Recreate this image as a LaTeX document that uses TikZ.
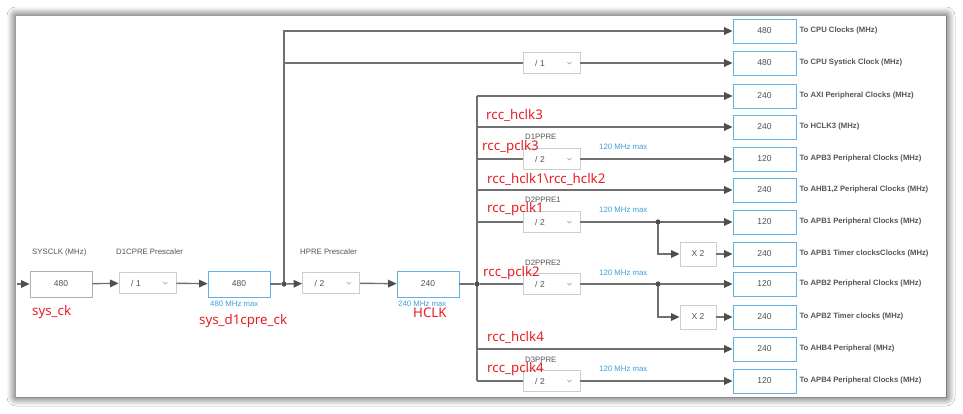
\documentclass[tikz,border=0pt]{standalone}
\usepackage{fontspec}
\setmainfont{Liberation Sans}
\newfontfamily\redfont{Noto Sans}
\usetikzlibrary{arrows.meta,shadows.blur}
\definecolor{wirec}{RGB}{112,112,112}
\definecolor{tipc}{RGB}{78,78,78}
\definecolor{boxgray}{RGB}{175,175,175}
\definecolor{presgray}{RGB}{205,205,205}
\definecolor{boxblue}{RGB}{95,178,228}
\definecolor{numc}{RGB}{80,80,80}
\definecolor{labc}{RGB}{85,85,85}
\definecolor{maxblue}{RGB}{60,160,220}
\definecolor{annred}{RGB}{232,28,36}
\definecolor{chevc}{RGB}{170,170,170}
\begin{document}
\begin{tikzpicture}[x=1pt,y=-1pt,
  wire/.style={draw=wirec, line width=1.4pt},
  arr/.style={wire, -{Triangle[length=8.5pt,width=7.5pt,color=tipc,fill=tipc]}},
  valbox/.style={draw=boxgray, line width=0.8pt, fill=white, minimum width=62pt, minimum height=26pt, inner sep=0pt, font=\fontsize{8.5}{10}\selectfont, text=numc},
  bluebox/.style={valbox, draw=boxblue},
  outbox/.style={bluebox, minimum width=63pt, minimum height=24pt},
  presc/.style={draw=presgray, line width=0.8pt, fill=white, minimum height=21pt, inner sep=0pt, text width=57pt, align=left, font=\fontsize{8.5}{10}\selectfont, text=numc},
  x2box/.style={draw=presgray, line width=0.8pt, fill=white, minimum width=36pt, minimum height=24pt, inner sep=0pt, font=\fontsize{8.5}{10}\selectfont, text=numc},
  lab/.style={anchor=west, inner sep=0pt, font=\fontsize{7.8}{9}\selectfont, text=labc},
  outlab/.style={lab, font=\bfseries\fontsize{7.7}{9}\selectfont},
  maxlab/.style={lab, text=maxblue},
  ann/.style={anchor=west, inner sep=0pt, text=annred, font=\redfont\fontsize{13.3}{15}\selectfont},
  jdot/.style={circle, fill=tipc, inner sep=0pt, minimum size=5pt},
  chev/.style={draw=chevc, line width=0.6pt}
]
\useasboundingbox (0,0) rectangle (963,414);
\fill[white] (0,0) rectangle (963,414);
\fill[white, blur shadow={shadow xshift=0pt, shadow yshift=0pt, shadow blur radius=9pt, shadow opacity=85, shadow blur steps=14}] (16,16) rectangle (946,397);

% coordinates
\coordinate (inl) at (17,284);
\coordinate (t2) at (284,63);
\foreach \n/\y in {3/96,4/127,5/159,6/190,7/222,11/349,12/381}{\coordinate (t\n) at (477,\y);}

% output boxes
\foreach \n/\y/\v/\t in {
 1/31/480/To CPU Clocks (MHz),
 2/63/480/To CPU Systick Clock (MHz),
 3/96/240/To AXI Peripheral Clocks (MHz),
 4/127/240/To HCLK3 (MHz),
 5/159/120/To APB3 Peripheral Clocks (MHz),
 6/190/240/{To AHB1,2 Peripheral Clocks (MHz)},
 7/222/120/To APB1 Peripheral Clocks (MHz),
 8/254/240/To APB1 Timer clocksClocks (MHz),
 9/284/120/To APB2 Peripheral Clocks (MHz),
 10/317/240/To APB2 Timer clocks (MHz),
 11/349/240/To AHB4 Peripheral (MHz),
 12/381/120/To APB4 Peripheral Clocks (MHz)}{
  \node[outbox] (o\n) at (764.5,\y) {\v};
  \node[outlab] (ol\n) at ([xshift=3pt]o\n.east) {\t};
}

% left chain
\node[valbox] (sys) at (61,284) {480};
\node[presc] (d1c) at (147.5,283) {\hspace*{12pt}/ 1};
\node[bluebox] (d1) at (239,284) {480};
\node[jdot] (j1) at (284,284) {};
\node[presc] (hpre) at (331,283) {\hspace*{12pt}/ 2};
\node[bluebox] (hclk) at (428,284) {240};
\node[jdot] (j2) at (477,284) {};

% prescalers on the right
\node[presc] (p2) at (551.5,63) {\hspace*{12pt}/ 1};
\node[presc] (p5) at (551.5,159) {\hspace*{12pt}/ 2};
\node[presc] (p7) at (551.5,222) {\hspace*{12pt}/ 2};
\node[presc] (p9) at (551.5,284) {\hspace*{12pt}/ 2};
\node[presc] (p12) at (551.5,381) {\hspace*{12pt}/ 2};
\node[jdot] (k1) at (658,222) {};
\node[jdot] (k2) at (658,284) {};
\node[x2box] (x1) at (698,254) {X 2};
\node[x2box] (x2) at (698,317) {X 2};

% wires
\draw[arr] (inl) -- (sys);
\draw[arr] (sys) -- (d1c);
\draw[arr] (d1c) -- (d1);
\draw[wire] (d1) -- (j1);
\draw[arr] (j1) -- (hpre);
\draw[arr] (hpre) -- (hclk);
\draw[wire] (hclk) -- (j2);
\draw[arr] (j1.center) |- (o1);
\draw[wire] (t2) -- (p2);
\draw[arr] (p2) -- (o2);
\draw[wire] (t3) -- (t12);
\foreach \n in {3,4,6,11}{\draw[arr] (t\n) -- (o\n);}
\foreach \n in {5,7,12}{\draw[wire] (t\n) -- (p\n); \draw[arr] (p\n) -- (o\n);}
\draw[wire] (j2) -- (p9);
\draw[arr] (p9) -- (o9);
\draw[arr] (k1.center) |- (x1);
\draw[arr] (x1) -- (o8);
\draw[arr] (k2.center) |- (x2);
\draw[arr] (x2) -- (o10);

% junction dots on top of wires
\fill[tipc] (j1) circle (2.5pt);
\fill[tipc] (j2) circle (2.5pt);
\fill[tipc] (k1) circle (2.5pt);
\fill[tipc] (k2) circle (2.5pt);

% chevrons
\foreach \p in {d1c,hpre,p2,p5,p7,p9,p12}{
  \draw[chev] ([xshift=-13pt,yshift=1pt]\p.east) -- ++(2pt,-2pt) -- ++(2pt,2pt);
}

% small labels
\node[lab] (lsys) at (32,252) {SYSCLK (MHz)};
\node[lab] (ld1c) at (116,252) {D1CPRE Prescaler};
\node[lab] (lhpre) at (300,252) {HPRE Prescaler};
\node[maxlab] (md1) at (210,304) {480 MHz max};
\node[maxlab] (mhclk) at (398,304) {240 MHz max};
\node[lab] (lp5) at (525,137) {D1PPRE};
\node[maxlab] (mp5) at (599,147) {120 MHz max};
\node[lab] (lp7) at (525,200) {D2PPRE1};
\node[maxlab] (mp7) at (599,210) {120 MHz max};
\node[lab] (lp9) at (525,263) {D2PPRE2};
\node[maxlab] (mp9) at (599,273) {120 MHz max};
\node[lab] (lp12) at (525,360) {D3PPRE};
\node[maxlab] (mp12) at (599,369) {120 MHz max};

% red annotations
\node[ann] (a1) at (32,312) {sys\_ck};
\node[ann] (a2) at (199,321) {sys\_d1cpre\_ck};
\node[ann] (a3) at (413,313) {HCLK};
\node[ann] (a4) at (486,115) {rcc\_hclk3};
\node[ann] (a5) at (482,147) {rcc\_pclk3};
\node[ann] (a6) at (487,179) {rcc\_hclk1\textbackslash rcc\_hclk2};
\node[ann] (a7) at (487,209) {rcc\_pclk1};
\node[ann] (a8) at (483,273) {rcc\_pclk2};
\node[ann] (a9) at (487,337) {rcc\_hclk4};
\node[ann] (a10) at (487,369) {rcc\_pclk4};
\end{tikzpicture}
\end{document}
